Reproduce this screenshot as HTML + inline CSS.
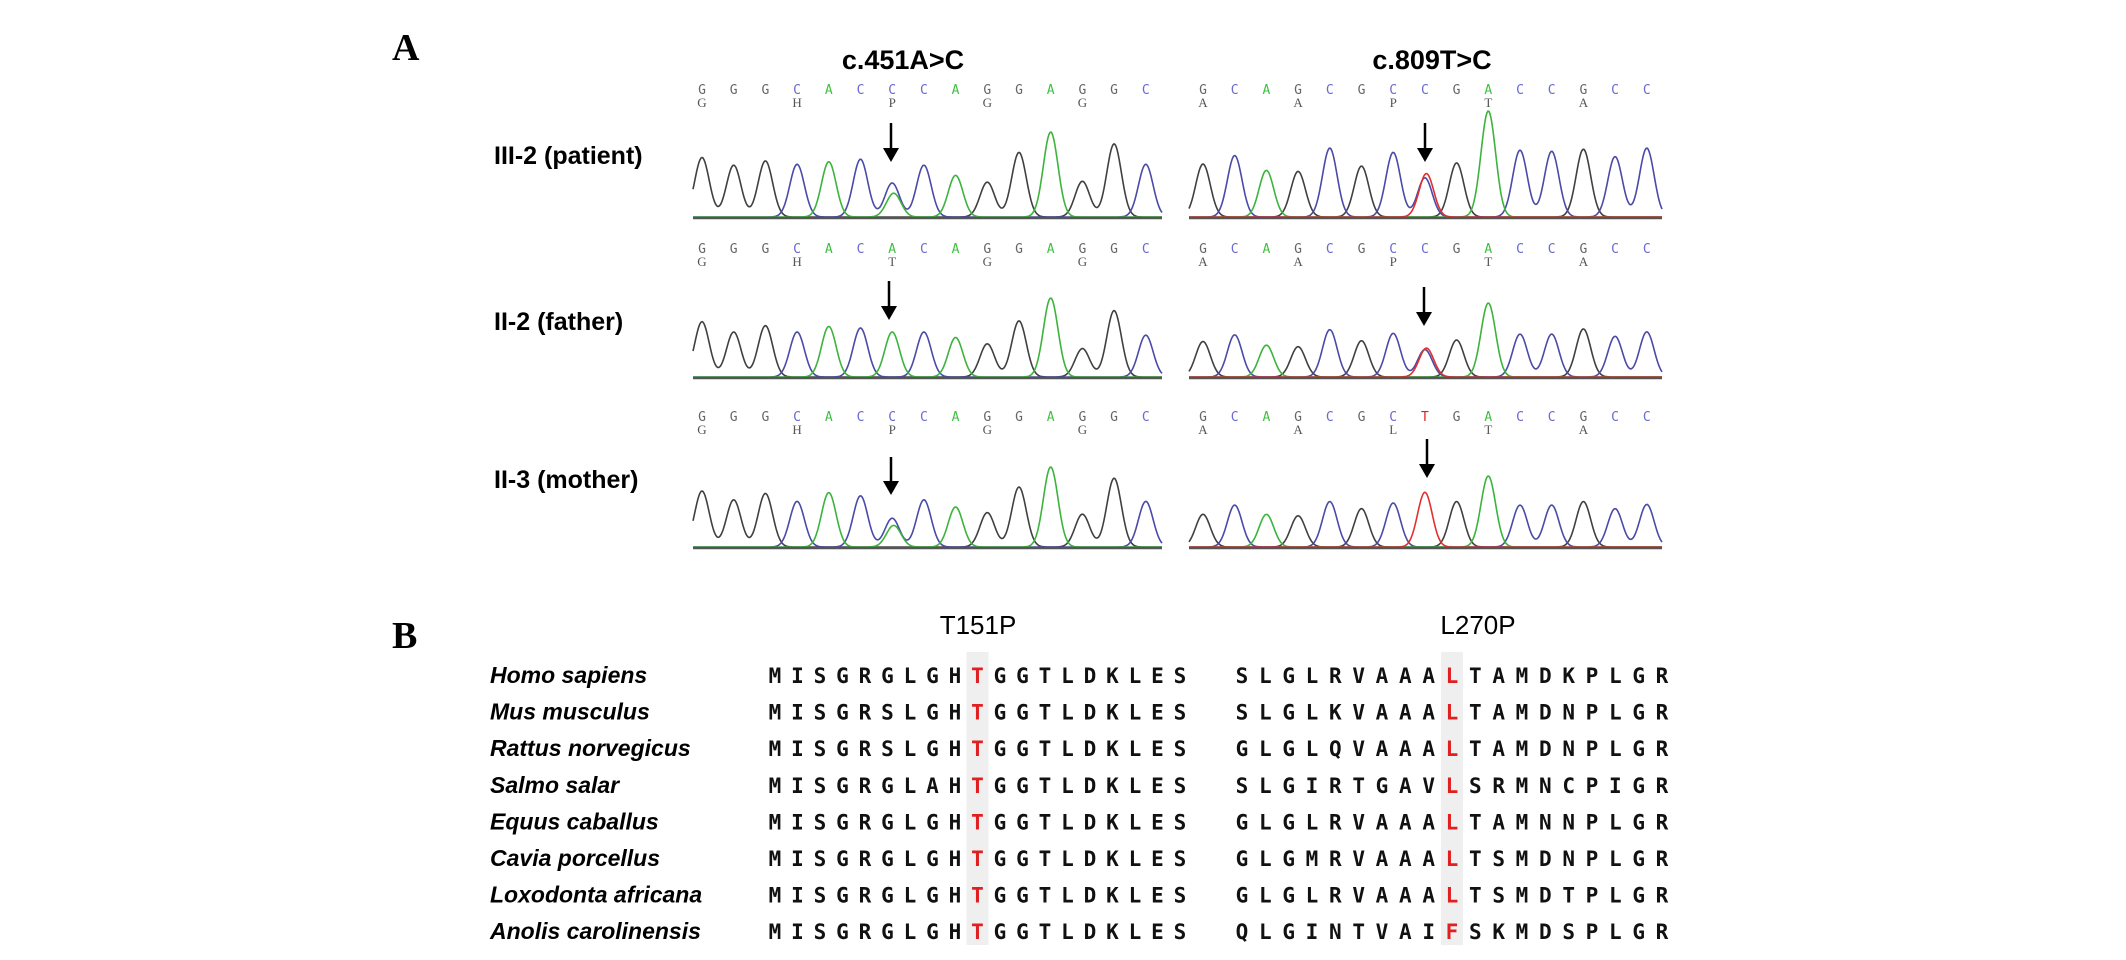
<!DOCTYPE html>
<html><head><meta charset="utf-8"><style>
html,body{margin:0;padding:0;background:#fff;}
svg{display:block;}
</style></head><body>
<svg id="fig" width="2126" height="960" viewBox="0 0 2126 960" xmlns="http://www.w3.org/2000/svg">
<rect width="2126" height="960" fill="#fff"/>
<g id="partA">
<text x="392" y="60" font-family="Liberation Serif" font-weight="bold" font-size="38">A</text>
<text x="903" y="69" text-anchor="middle" font-family="Liberation Sans" font-weight="bold" font-size="27">c.451A&gt;C</text>
<text x="1432" y="69" text-anchor="middle" font-family="Liberation Sans" font-weight="bold" font-size="27">c.809T&gt;C</text>
<text x="494" y="164" font-family="Liberation Sans" font-weight="bold" font-size="25">III-2 (patient)</text>
<text x="494" y="330" font-family="Liberation Sans" font-weight="bold" font-size="25">II-2 (father)</text>
<text x="494" y="488" font-family="Liberation Sans" font-weight="bold" font-size="25">II-3 (mother)</text>
</g>
<g id="partB">
<text x="392" y="648" font-family="Liberation Serif" font-weight="bold" font-size="38">B</text>
<text x="978" y="634" text-anchor="middle" font-family="Liberation Sans" font-size="26">T151P</text>
<text x="1478" y="634" text-anchor="middle" font-family="Liberation Sans" font-size="26">L270P</text>
</g>
</svg>
<script>
// ---- chromatogram data ----
const bases1 = ["G","G","G","C","A","C","C","C","A","G","G","A","G","G","C"];
const bases2 = ["G","C","A","G","C","G","C","C","G","A","C","C","G","C","C"];
const sub1 = ["G","","","H","","","P","","","G","","","G","",""];
const sub2 = ["A","","","A","","","P","","","T","","","A","",""];
const hP1 = [0.70,0.61,0.66,0.62,0.65,0.68,0.40,0.61,0.49,0.41,0.76,1.0,0.42,0.86,0.62];
const hP2 = [0.50,0.58,0.44,0.43,0.65,0.48,0.61,0.37,0.51,1.0,0.63,0.62,0.64,0.57,0.65];
const hF1 = [0.70,0.57,0.65,0.57,0.64,0.62,0.57,0.57,0.50,0.42,0.71,1.0,0.36,0.84,0.53];
const hF2 = [0.48,0.57,0.43,0.41,0.64,0.49,0.59,0.37,0.50,1.0,0.58,0.58,0.65,0.55,0.61];
const hM1 = [0.70,0.59,0.67,0.57,0.68,0.64,0.36,0.59,0.50,0.43,0.75,1.0,0.41,0.86,0.57];
const hM2 = [0.46,0.59,0.46,0.44,0.64,0.54,0.62,0.0,0.64,1.0,0.59,0.59,0.64,0.54,0.60];
const minor = {P1:["A",0.28],P2:["T",0.41],F1:null,F2:["T",0.39],M1:["A",0.27],M2:["T",0.77]};

const NS="http://www.w3.org/2000/svg";
const svg=document.getElementById('fig');
const gA=document.getElementById('partA');
const colors={G:"#404040",C:"#4a4aa8",A:"#3cb43c",T:"#e03030"};
const lcolors={G:"#666",C:"#6a6ad0",A:"#40c040",T:"#e02020"};
function el(tag,attrs,parent){const e=document.createElementNS(NS,tag);for(const k in attrs)e.setAttribute(k,attrs[k]);(parent||svg).appendChild(e);return e;}

const panels=[
 {key:"P1",x0:693,x1:1162,first:702,base:217,max:85,lettersY:94,h:hP1,bases:bases1,sub:sub1,arrow:[891,123,162],mut:6,row:"patient",side:"c451"},
 {key:"P2",x0:1189,x1:1662,first:1203,base:217,max:106,lettersY:94,h:hP2,bases:bases2,sub:sub2,arrow:[1425,123,162],mut:7,row:"patient",side:"c809"},
 {key:"F1",x0:693,x1:1162,first:702,base:377,max:79,lettersY:253,h:hF1,bases:bases1.map((b,i)=>i==6?"A":b),sub:sub1.map((b,i)=>i==6?"T":b),arrow:[889,281,320],mut:6,row:"father",side:"c451"},
 {key:"F2",x0:1189,x1:1662,first:1203,base:377,max:74,lettersY:253,h:hF2,bases:bases2,sub:sub2,arrow:[1424,287,326],mut:7,row:"father",side:"c809"},
 {key:"M1",x0:693,x1:1162,first:702,base:547,max:80,lettersY:421,h:hM1,bases:bases1,sub:sub1,arrow:[891,457,495],mut:6,row:"mother",side:"c451"},
 {key:"M2",x0:1189,x1:1662,first:1203,base:547,max:71,lettersY:421,h:hM2,bases:bases2.map((b,i)=>i==7?"T":b),sub:sub2.map((b,i)=>i==6?"L":b),arrow:[1427,439,478],mut:7,row:"mother",side:"c809"},
];
const step=31.7, sigma=7.3;
panels.forEach(p=>{
  const g=el('g',{},gA);
  
  
  const xs=i=>p.first+i*step;
  const peaks=[];
  p.bases.forEach((b,i)=>{
    let col=b, hh=p.h[i];
    if(p.key==="M2"&&i===7){col="T";hh=minor.M2[1];}
    else if(p.key==="F1"&&i===6){col="A";}
    else if(i===p.mut&&minor[p.key]){ if(p.key[1]==="2"){col="C";} }
    peaks.push({c:col,x:xs(i),h:hh});
    if(i===p.mut&&minor[p.key]&&p.key!=="M2")peaks.push({c:minor[p.key][0],x:xs(i)+1.5,h:minor[p.key][1]});
  });
  ["G","C","A","T"].forEach(c=>{
    const pk=peaks.filter(q=>q.c===c); if(!pk.length)return;
    let pts=[];
    for(let x=p.x0;x<=p.x1;x+=1){
      let y=0; pk.forEach(q=>{y+=q.h*Math.exp(-((x-q.x)**2)/(2*sigma*sigma));});
      pts.push(x+","+(p.base-y*p.max).toFixed(1));
    }
    const pl=el('polyline',{points:pts.join(" "),fill:"none",stroke:colors[c],"stroke-width":1.6},g);
    
    
  });
  const bl=el('line',{x1:p.x0,x2:p.x1,y1:p.base+1,y2:p.base+1,stroke:"#555","stroke-width":2.5},g);
  
  
  p.bases.forEach((b,i)=>{
    const t=el('text',{x:xs(i),y:p.lettersY,"text-anchor":"middle","font-family":"DejaVu Sans Mono","font-size":13,fill:lcolors[b]},g);
    t.textContent=b;
    
    
    if(p.sub[i]){
      const s=el('text',{x:xs(i),y:p.lettersY+13,"text-anchor":"middle","font-family":"Liberation Serif","font-size":13,fill:"#555"},g);
      s.textContent=p.sub[i];
      
      
    }
  });
  const [ax,ay0,ay1]=p.arrow;
  const a=el('g',{},g);
  
  
  el('line',{x1:ax,x2:ax,y1:ay0,y2:ay1-12,stroke:"#000","stroke-width":2.5},a);
  el('polygon',{points:`${ax-8},${ay1-14} ${ax+8},${ay1-14} ${ax},${ay1}`,fill:"#000"},a);
});

// ---- alignment data ----
const species=["Homo sapiens","Mus musculus","Rattus norvegicus","Salmo salar","Equus caballus","Cavia porcellus","Loxodonta africana","Anolis carolinensis"];
const seq1=["MISGRGLGHTGGTLDKLES","MISGRSLGHTGGTLDKLES","MISGRSLGHTGGTLDKLES","MISGRGLAHTGGTLDKLES","MISGRGLGHTGGTLDKLES","MISGRGLGHTGGTLDKLES","MISGRGLGHTGGTLDKLES","MISGRGLGHTGGTLDKLES"];
const seq2=["SLGLRVAAALTAMDKPLGR","SLGLKVAAALTAMDNPLGR","GLGLQVAAALTAMDNPLGR","SLGIRTGAVLSRMNCPIGR","GLGLRVAAALTAMNNPLGR","GLGMRVAAALTSMDNPLGR","GLGLRVAAALTSMDTPLGR","QLGINTVAIFSKMDSPLGR"];
const hi1=9, hi2=9;
const gB=document.getElementById('partB');
function seqX1(i){return 775+i*(405/18);}
function seqX2(i){return 1242+i*(420/18);}
const r1=el('rect',{x:seqX1(hi1)-11,y:652,width:22,height:293,fill:"#efefef"},gB);


const r2=el('rect',{x:seqX2(hi2)-11,y:652,width:22,height:293,fill:"#efefef"},gB);


species.forEach((sp,r)=>{
  const y=675+r*36.6;
  const row=el('g',{},gB);
  
  
  const t=el('text',{x:490,y:y+8,"font-family":"Liberation Sans","font-style":"italic","font-weight":"bold","font-size":23},row);
  t.textContent=sp;
  
  
  [[seq1[r],seqX1,hi1],[seq2[r],seqX2,hi2]].forEach(([s,fx,hi])=>{
    for(let i=0;i<s.length;i++){
      const c=el('text',{x:fx(i),y:y+8,"text-anchor":"middle","font-family":"DejaVu Sans Mono","font-weight":"bold","font-size":21,fill:i===hi?"#e02020":"#111"},row);
      c.textContent=s[i];
      
      
    }
  });
});
</script>
</body></html>
